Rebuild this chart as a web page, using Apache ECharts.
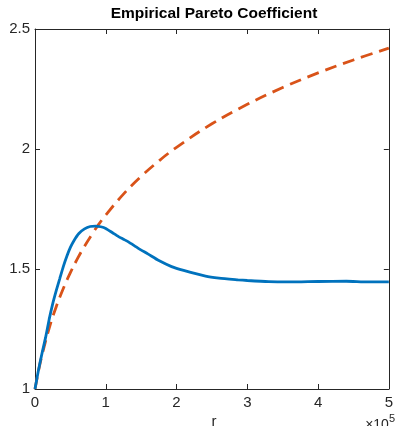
<!DOCTYPE html>
<html>
<head>
<meta charset="utf-8">
<script src="https://cdn.jsdelivr.net/npm/echarts@6/dist/echarts.min.js"></script>
<style>html,body{margin:0;padding:0;background:#fff;}#c{width:396px;height:426px;}</style>
</head>
<body>
<div id="c"></div>
<script>
// Data (r in units of 1e5)
var titleText = 'Empirical Pareto Coefficient';
var xTicks = [0, 1, 2, 3, 4, 5];
var yTicks = [1, 1.5, 2, 2.5];

var empiricalR = [0, 0.05, 0.1, 0.15, 0.2, 0.25, 0.3, 0.35, 0.4, 0.45, 0.5, 0.55, 0.62, 0.7, 0.78, 0.855, 0.93, 1.0, 1.1, 1.18, 1.25, 1.32, 1.46, 1.6, 1.75, 1.93, 2.1, 2.41, 2.6, 2.87, 3.0, 3.3, 3.6, 4.0, 4.4, 4.7, 5.0];
var empiricalAlpha = [1.0, 1.08, 1.15, 1.215, 1.29, 1.355, 1.41, 1.46, 1.51, 1.553, 1.59, 1.618, 1.648, 1.667, 1.677, 1.679, 1.676, 1.669, 1.65, 1.635, 1.624, 1.613, 1.586, 1.562, 1.535, 1.51, 1.494, 1.47, 1.462, 1.455, 1.452, 1.447, 1.446, 1.448, 1.449, 1.446, 1.446];

var referenceR = [0, 0.05, 0.1, 0.2, 0.3, 0.4, 0.5, 0.6, 0.7, 0.8, 0.9, 1.0, 1.25, 1.5, 1.75, 2.0, 2.5, 3.0, 3.5, 4.0, 4.5, 5.0];
var referenceAlpha = [1.0, 1.076, 1.142, 1.253, 1.343, 1.419, 1.485, 1.543, 1.595, 1.642, 1.686, 1.725, 1.812, 1.886, 1.95, 2.007, 2.105, 2.186, 2.256, 2.317, 2.371, 2.42];

function pairs(xs, ys) { return xs.map(function (x, i) { return [x, ys[i]]; }); }

var chart = echarts.init(document.getElementById('c'), null, {renderer: 'canvas'});
var font = 'Liberation Sans, Arial, Helvetica, sans-serif';
var axisColor = '#262626';

function xAx(pos, showLabel) {
  return {
    type: 'value', position: pos, min: xTicks[0], max: xTicks[xTicks.length - 1], interval: 1,
    axisLine: {show: true, onZero: false, lineStyle: {color: axisColor, width: 1}},
    axisTick: {show: true, inside: true, length: 5, lineStyle: {color: axisColor}},
    axisLabel: {show: showLabel, margin: 6, fontSize: 15, color: axisColor, fontFamily: font},
    splitLine: {show: false}
  };
}
function yAx(pos, showLabel) {
  return {
    type: 'value', position: pos, min: yTicks[0], max: yTicks[yTicks.length - 1], interval: 0.5,
    axisLine: {show: true, onZero: false, lineStyle: {color: axisColor, width: 1}},
    axisTick: {show: true, inside: true, length: 5, lineStyle: {color: axisColor}},
    axisLabel: {show: showLabel, margin: 5, fontSize: 15, color: axisColor, fontFamily: font},
    splitLine: {show: false}
  };
}

chart.setOption({
  animation: false,
  backgroundColor: '#ffffff',
  grid: {left: 35, right: 3, top: 29, bottom: 37, containLabel: false},
  xAxis: [xAx('bottom', true), xAx('top', false)],
  yAxis: [yAx('left', true), yAx('right', false)],
  series: [
    {
      type: 'line', xAxisIndex: 0, yAxisIndex: 0, data: pairs(referenceR, referenceAlpha),
      showSymbol: false, smooth: 0.4, z: 2,
      lineStyle: {color: '#D95319', width: 2.8, type: [12, 7]}
    },
    {
      type: 'line', xAxisIndex: 0, yAxisIndex: 0, data: pairs(empiricalR, empiricalAlpha),
      showSymbol: false, smooth: 0.2, z: 3,
      lineStyle: {color: '#0072BD', width: 2.8}
    }
  ],
  graphic: [
    {type: 'text', style: {text: titleText, x: 214, y: 14, align: 'center', verticalAlign: 'middle', font: 'bold 15.5px ' + font, fill: '#000'}},
    {type: 'text', style: {text: 'r', x: 214, y: 422, align: 'center', verticalAlign: 'middle', font: '15px ' + font, fill: axisColor}},
    {type: 'text', style: {
      text: '{a|×10}{b|5}', x: 395, y: 421, align: 'right', verticalAlign: 'middle',
      rich: {a: {fontSize: 14, fontFamily: font, fill: axisColor, padding: [9, 0, 0, 0]}, b: {fontSize: 11, fontFamily: font, fill: axisColor, padding: [0, 0, 4, 0]}}
    }}
  ]
});
</script>
</body>
</html>
